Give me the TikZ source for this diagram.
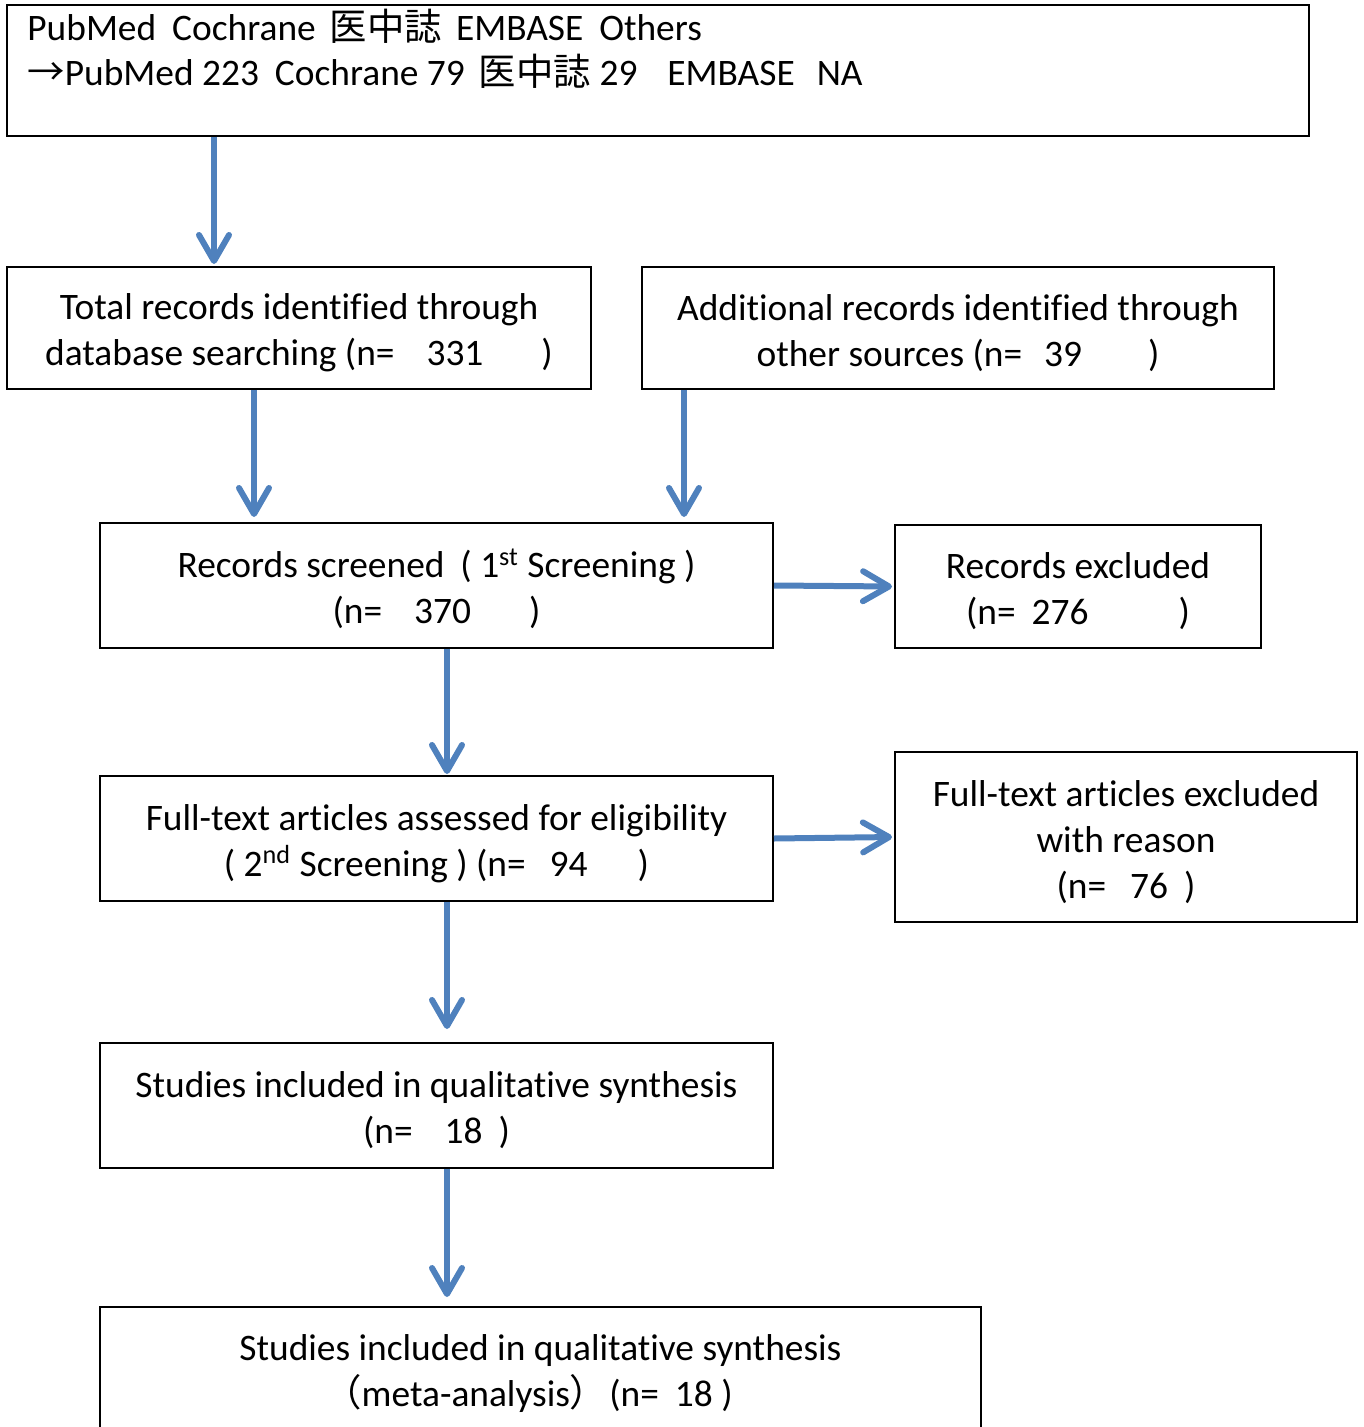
\documentclass[tikz,border=0pt]{standalone}
\usepackage{fontspec}
\setmainfont{Carlito}[Ligatures={NoCommon,NoRare,NoContextual}]
\newfontfamily\cjk{Noto Sans CJK JP}
\usetikzlibrary{arrows.meta,positioning}
\definecolor{arrblue}{HTML}{4F81BD}
\newcommand\upstrut{\rule{0pt}{18pt}}
\tikzset{
  box/.style={draw=black, line width=1pt, inner sep=0pt, align=center,
    font=\fontsize{18.7pt}{23pt}\selectfont},
  arr/.style={draw=arrblue, line width=3pt,
    -{Straight Barb[length=13pt,width=15pt,round]}},
  txt/.style={inner sep=0pt, align=left, font=\fontsize{18.7pt}{22.5pt}\selectfont}
}
\begin{document}
\begin{tikzpicture}[x=0.5pt,y=-0.5pt]
\useasboundingbox (0,0) rectangle (1363,1427);
% boxes
\node[box, minimum width=651pt, minimum height=65.5pt] (top) at (658,70.5) {};
\node[txt, anchor=north west] (toptext) at (27,9)
 {PubMed\hspace{8pt}Cochrane\hspace{7pt}{\cjk 医中誌}\hspace{7pt}EMBASE\hspace{8pt}Others\\
  {\cjk →}PubMed 223\hspace{8pt}Cochrane 79\hspace{7pt}{\cjk 医中誌} 29\hspace{15pt}EMBASE\hspace{11pt}NA};
\node[box, minimum width=292pt, minimum height=61pt] (A) at (299,328)
 {\upstrut Total records identified through\\database searching (n=\hspace{16pt}331\hspace{29pt})};
\node[box, minimum width=316pt, minimum height=61pt] (B) at (958,328)
 {\upstrut Additional records identified through\\other sources (n=\hspace{11pt}39\hspace{33pt})};
\node[box, minimum width=336.5pt, minimum height=62.5pt] (C) at (436.5,585.5)
 {\upstrut Records screened\hspace{8pt}( 1\textsuperscript{st} Screening )\\(n=\hspace{16pt}370\hspace{29pt})};
\node[box, minimum width=183pt, minimum height=61.5pt] (D) at (1078,586.5)
 {\upstrut Records excluded\\(n=\hspace{8pt}276\hspace{45pt})};
\node[box, minimum width=336.5pt, minimum height=62.5pt] (E) at (436.5,838.5)
 {\upstrut Full-text articles assessed for eligibility\\( 2\textsuperscript{nd} Screening ) (n=\hspace{12pt}94\hspace{25pt})};
\node[box, minimum width=231pt, minimum height=85pt] (F) at (1126,837)
 {\upstrut Full-text articles excluded\\with reason\\(n=\hspace{12pt}76\hspace{8pt})};
\node[box, minimum width=336.5pt, minimum height=62.5pt] (G) at (436.5,1105.5)
 {\upstrut Studies included in qualitative synthesis\\(n=\hspace{16pt}18\hspace{8pt})};
\node[box, minimum width=440.5pt, minimum height=66.5pt] (H) at (540.5,1373.5)
 {Studies included in qualitative synthesis\\{\cjk （}meta-analysis{\cjk ）}\hspace{1pt}(n=\hspace{8pt}18 )\hspace*{12pt}};
% arrows
\draw[arr, shorten >=1pt] ([xshift=104pt]top.south west) -- ([xshift=104pt]A.north west);
\draw[arr, shorten >=2.5pt] ([xshift=124pt]A.south west) -- ([xshift=77.5pt]C.north west);
\draw[arr, shorten >=2.5pt] ([xshift=21.5pt]B.south west) -- ([xshift=292.5pt]C.north west);
\draw[arr, shorten >=1pt] (C.east) -- (D.west);
\draw[arr, shorten >=0.5pt] ([xshift=5.25pt]C.south) -- ([xshift=5.25pt]E.north);
\draw[arr, shorten >=1pt] (E.east) -- (F.west);
\draw[arr, shorten >=6.5pt] ([xshift=5.25pt]E.south) -- ([xshift=5.25pt]G.north);
\draw[arr, shorten >=4.5pt] ([xshift=5.25pt]G.south) -- ([xshift=-46.75pt]H.north);
\end{tikzpicture}
\end{document}
